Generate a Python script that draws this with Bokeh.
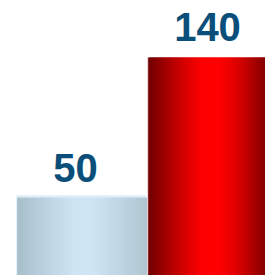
from bokeh.plotting import figure
from bokeh.models import Range1d
from bokeh.embed import file_html
from bokeh.resources import INLINE
from bokeh.core.properties import value

# ---- data ----
categories = ["A", "B"]
values = [50, 140]
labels = ["50", "140"]

# ---- style ----
BAR_W = 0.99
PX_PER_UNIT_X = 132.0
blue_stops = [(0.0, (168, 190, 202)), (0.45, (207, 229, 242)), (0.58, (207, 229, 242)), (1.0, (176, 198, 210))]
red_stops = [(0.0, (112, 0, 0)), (0.15, (168, 0, 0)), (0.3, (222, 0, 0)), (0.42, (255, 0, 0)),
             (0.55, (255, 0, 0)), (0.7, (215, 0, 0)), (0.88, (140, 0, 0)), (1.0, (108, 0, 0))]
grads = [blue_stops, red_stops]
TEXT_COLOR = "#0a4f7a"


def interp(stops, t):
    for (t0, c0), (t1, c1) in zip(stops[:-1], stops[1:]):
        if t0 <= t <= t1:
            f = 0 if t1 == t0 else (t - t0) / (t1 - t0)
            c = tuple(int(round(a + (b - a) * f)) for a, b in zip(c0, c1))
            return "#%02x%02x%02x" % c
    return "#%02x%02x%02x" % stops[-1][1]


W, H = 265, 275
x0 = -0.5 - 15 / PX_PER_UNIT_X
y_top = 176.6
p = figure(width=W, height=H, output_backend="svg", toolbar_location=None,
           x_range=Range1d(x0, x0 + W / PX_PER_UNIT_X), y_range=Range1d(0, y_top),
           x_axis_type=None, y_axis_type=None, min_border=0,
           outline_line_color=None, background_fill_color="white", border_fill_color="white")
p.grid.visible = False

ux = 1 / PX_PER_UNIT_X
uy = y_top / H
N = 132
for i, (cat, v) in enumerate(zip(categories, values)):
    xc = i
    left_edge = xc - BAR_W / 2
    if i == 0:
        # light halo on top/left of the pale bar
        p.quad(left=[left_edge], right=[left_edge + BAR_W - 1 * ux], bottom=[0], top=[v + 2.5 * uy],
               fill_color="#deeef8", line_color=None)
        inset = 3 * ux
    else:
        p.quad(left=[left_edge - 1 * ux], right=[left_edge], bottom=[0], top=[v],
               fill_color="#e8c8cc", line_color=None)
        inset = 0
    lefts, rights, cols = [], [], []
    for k in range(N):
        t = (k + 0.5) / N
        lefts.append(left_edge + BAR_W * k / N)
        r = left_edge + BAR_W * (k + 1) / N
        if k < N - 1:
            r += 1.2 * ux  # overlap to avoid anti-aliasing seams
        rights.append(r)
        cols.append(interp(grads[i], t))
    lefts[0] = left_edge + inset
    p.quad(left=lefts, right=rights, bottom=[0] * N, top=[v] * N,
           fill_color=cols, line_color=None)

p.text(x=list(range(len(values))), y=values, text=labels,
       text_font=value("Liberation Sans"), text_font_style="bold",
       text_font_size="40px", text_color=TEXT_COLOR,
       text_align="center", text_baseline="bottom", x_offset=-6, y_offset=-16)

open("out.html", "w").write(file_html(p, INLINE))
